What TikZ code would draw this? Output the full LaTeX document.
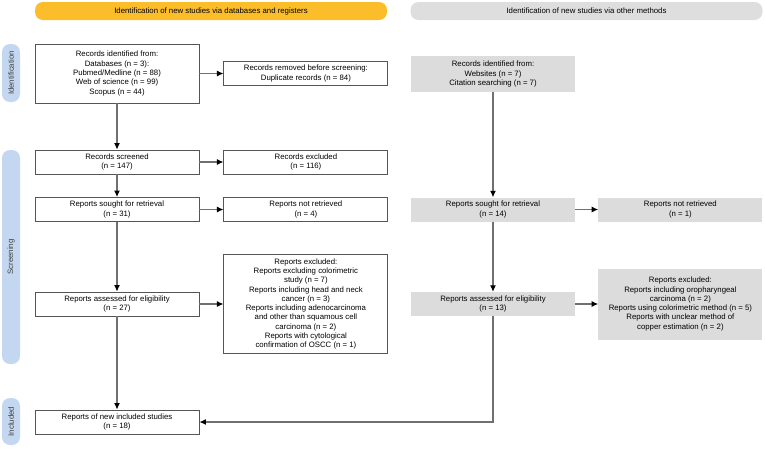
\documentclass[tikz,border=0pt]{standalone}
\usepackage{fontspec}
\setmainfont{Liberation Sans}
\usepackage{tikz}
\usetikzlibrary{arrows.meta,%
                positioning}

\definecolor{HeadYellow}{HTML}{FBBE2A}
\definecolor{HeadGrey}{HTML}{DEDEDE}
\definecolor{BarBlue}{HTML}{C3D7F0}
\definecolor{BoxLine}{HTML}{555555}
\definecolor{OtherFill}{HTML}{DCDCDC}
\definecolor{EdgeGrey}{HTML}{707070}

\begin{document}
\begin{tikzpicture}[>={Latex[length=6.5pt,width=6pt,color=black]}, x=1pt, y=-1pt,
  every node/.style = {font=\fontsize{7.8}{9.3}\selectfont, align=center, inner sep=2pt}]
  \tikzset{MainBox/.style = {draw=BoxLine, line width=0.9pt, fill=white,
                             minimum width=164pt, minimum height=24pt}}
  \tikzset{OtherBox/.style = {fill=OtherFill, minimum width=164pt, minimum height=24pt}}
  \tikzset{HeadBar/.style = {rounded corners=8pt, minimum width=352pt, minimum height=18pt}}
  \tikzset{SideBar/.style = {fill=BarBlue, rounded corners=8pt, minimum height=18pt,
                             rotate=90, text=black!75}}
  \tikzset{EdgeStyle/.style = {->, draw=EdgeGrey, line width=1.1pt}}
  \tikzset{node distance = 24pt}
  \useasboundingbox (0,0) rectangle (765,448);

  % headers
  \node[HeadBar, fill=HeadYellow] (HeadDb) at (211,11)
    {Identification of new studies via databases and registers};
  \node[HeadBar, fill=HeadGrey] (HeadOther) at (586.5,11)
    {Identification of new studies via other methods};

  % stages
  \node[SideBar, minimum width=58pt] (Ident) at (11,73) {Identification};
  \node[SideBar, minimum width=214pt] (Screen) at (11,257) {Screening};
  \node[SideBar, minimum width=47pt] (Incl) at (11,421.5) {Included};

  % databases and registers
  \node[MainBox, minimum height=59pt] (RecId) at (117,73.5)
    {Records identified from:\\Databases (n = 3):\\Pubmed/Medline (n = 88)\\Web of science (n = 99)\\Scopus (n = 44)};
  \node[MainBox, right=of RecId] (RecRem)
    {Records removed before screening:\\Duplicate records (n = 84)};
  \node[MainBox] (RecScr) at (117,162) {Records screened\\(n = 147)};
  \node[MainBox, right=of RecScr] (RecExc) {Records excluded\\(n = 116)};
  \node[MainBox] (RepSou) at (117,209.5) {Reports sought for retrieval\\(n = 31)};
  \node[MainBox, right=of RepSou] (RepNot) {Reports not retrieved\\(n = 4)};
  \node[MainBox] (RepAss) at (117,304) {Reports assessed for eligibility\\(n = 27)};
  \node[MainBox, minimum height=99pt, right=of RepAss] (RepExc)
    {Reports excluded:\\Reports excluding colorimetric\\study (n = 7)\\Reports including head and neck\\cancer (n = 3)\\Reports including adenocarcinoma\\and other than squamous cell\\carcinoma (n = 2)\\Reports with cytological\\confirmation of OSCC (n = 1)};
  \node[MainBox] (RepInc) at (117,422) {Reports of new included studies\\(n = 18)};

  % other methods
  \node[OtherBox, minimum height=36pt] (OthId) at (493,74)
    {Records identified from:\\Websites (n = 7)\\Citation searching (n = 7)};
  \node[OtherBox] (OthSou) at (493,209.5) {Reports sought for retrieval\\(n = 14)};
  \node[OtherBox, right=23pt of OthSou] (OthNot) {Reports not retrieved\\(n = 1)};
  \node[OtherBox] (OthAss) at (493,304) {Reports assessed for eligibility\\(n = 13)};
  \node[OtherBox, minimum height=71pt, right=23pt of OthAss] (OthExc)
    {Reports excluded:\\Reports including oropharyngeal\\carcinoma (n = 2)\\Reports using colorimetric method (n = 5)\\Reports with unclear method of\\copper estimation (n = 2)};

  \draw[EdgeStyle] (RecId) -- (RecRem);
  \draw[EdgeStyle] (RecId) -- (RecScr);
  \draw[EdgeStyle] (RecScr) -- (RecExc);
  \draw[EdgeStyle] (RecScr) -- (RepSou);
  \draw[EdgeStyle] (RepSou) -- (RepNot);
  \draw[EdgeStyle] (RepSou) -- (RepAss);
  \draw[EdgeStyle] (RepAss) -- (RepExc);
  \draw[EdgeStyle] (RepAss) -- (RepInc);

  \draw[EdgeStyle] (OthId) -- (OthSou);
  \draw[EdgeStyle] (OthSou) -- (OthNot);
  \draw[EdgeStyle] (OthSou) -- (OthAss);
  \draw[EdgeStyle] (OthAss) -- (OthExc);
  \draw[EdgeStyle] (OthAss) |- (RepInc);

\end{tikzpicture}
\end{document}
